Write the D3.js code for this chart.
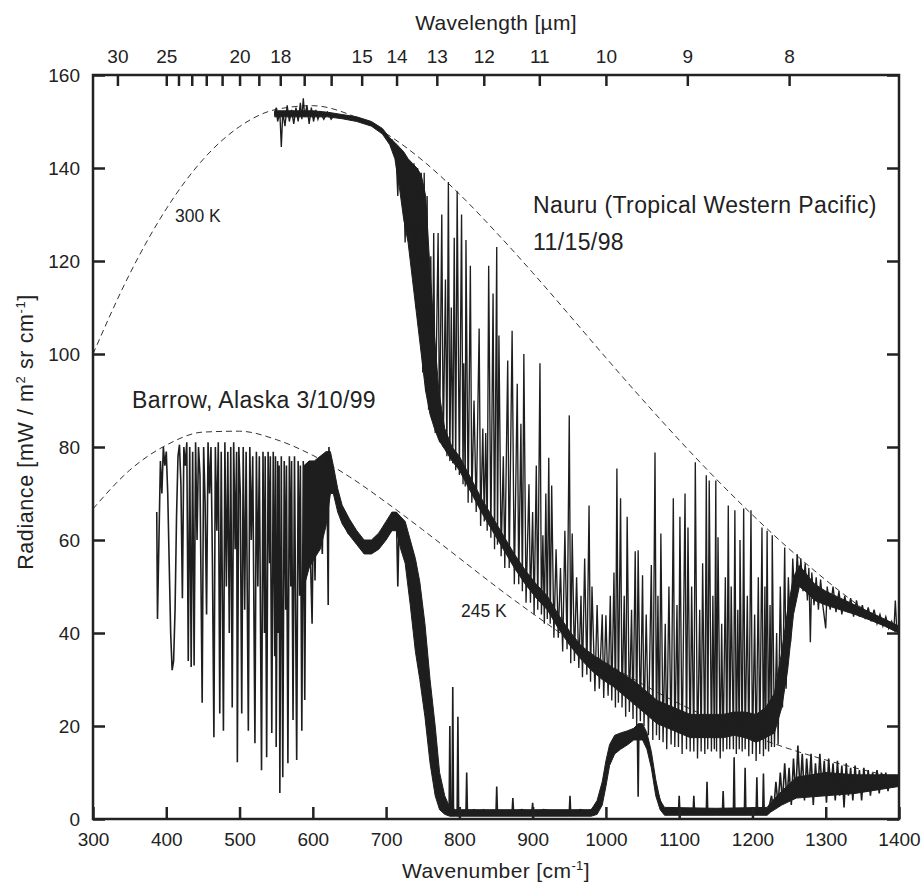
<!DOCTYPE html>
<html>
<head>
<meta charset="utf-8">
<script src="https://cdn.jsdelivr.net/npm/d3@7"></script>
<style>
  body { margin: 0; background: #fff; }
  text { font-family: "Liberation Sans", Arial, sans-serif; fill: #222; }
</style>
</head>
<body>
<svg id="chart" width="924" height="882"></svg>
<script>
// axis values
const wnTicks = [300, 400, 500, 600, 700, 800, 900, 1000, 1100, 1200, 1300, 1400];
const radTicks = [0, 20, 40, 60, 80, 100, 120, 140, 160];
const lambdaTicks = [30, 25, 24, 23, 22, 21, 20, 19, 18, 17, 16, 15, 14, 13, 12, 11, 10, 9, 8];
const lambdaLabels = [30, 25, 20, 18, 15, 14, 13, 12, 11, 10, 9, 8];

// blackbody curves
const planckWn = [300, 350, 400, 450, 500, 550, 600, 650, 700, 750, 800, 850, 900, 950, 1000, 1050, 1100, 1150, 1200, 1250, 1300, 1350, 1400];
const planck300 = [100.0, 117.2, 131.2, 141.8, 148.9, 152.6, 153.4, 151.5, 147.4, 141.6, 134.4, 126.2, 117.5, 108.4, 99.2, 90.2, 81.5, 73.2, 65.4, 58.1, 51.4, 45.3, 39.7];
const planck245 = [66.7, 75.0, 80.4, 83.2, 83.4, 81.6, 78.2, 73.6, 68.1, 62.2, 56.1, 50.0, 44.2, 38.7, 33.6, 29.0, 24.8, 21.2, 17.9, 15.1, 12.7, 10.6, 8.8];

// Nauru: dense part [wn, low, high] and the trace [wn, radiance]
const nauruBand = [
  [548,151,152.3],[600,151,152.3],[620,151,152],[640,150.6,151.5],[660,150,151],[680,149,150],
  [695,147.3,148.5],[705,145,146.5],[712,142,145.5],[718,136,144.5],[724,129,143.5],[730,124,142],
  [736,116,141],[742,108,140],[748,100,138.5],[754,92,134],[760,87,118],[766,84,104],[772,81.5,92],
  [780,79.5,84],[790,77,80],[800,75,78],[815,70.5,73.5],[830,66,69],[845,62,65],[860,58,61],
  [875,54,57],[890,50.5,53.5],[905,47.5,50.5],[920,45,48],[935,41,44],[950,37.5,40.5],[965,34.5,37.5],
  [980,32,35.5],[995,30,34],[1010,28.5,32.5],[1025,26.5,31],[1040,24.5,29.5],[1055,22.5,27.5],[1070,20.5,25.5],
  [1085,19.5,24.5],[1100,18.5,23.5],[1115,17.5,22.5],[1130,17.5,22.5],[1145,17.5,22.5],[1160,17.5,22.5],
  [1175,18,23],[1190,17.5,23],[1205,16.5,22.5],[1218,17.5,24],[1230,18.5,27],[1240,24,36],[1248,32,45],
  [1256,44,52],[1264,50,54.5],[1272,49,53],[1285,47,50.5],[1300,46,49],[1320,45,47.5],[1340,44,46],
  [1360,42.8,44.5],[1380,41.5,43],[1400,40,41.5]
];
const nauruTrace = [
  [548,151.5],[550,153],[552,150],[555,152],[557,144.5],[559,152],[562,149],[565,153.5],[568,150],[571,152.5],
  [574,149.5],[577,153],[580,150],[583,154],[585,150.5],[587,155],[589,151],[592,153.5],[595,149.5],[598,153],
  [601,150],[604,152.5],[607,150.5],[610,152],[615,150.5],[620,152],[625,150.5],[630,151.5],[640,151],[650,151],
  [660,150.5],[670,150],[680,149.5],[690,148.5],[700,147],[705,145.5],[708,146],[711,143],[713,145],[716,134],
  [718,144],[721,138],[723,143.5],[726,124],[728,142],[731,126],[733,141],[736,125],[738,141],[741,110],[743,140],
  [746,106],[748,139],[750,96],[752,139],[754,92],[756,134],[758,88],[761,121],[763,86],[765,126],[767,83],
  [771,126],[773,81],[776,130],[778,80],[781,116],[783,78],[785,137],[787,77],[789,110],[791,76.5],[793,125],
  [795,75],[797,135],[800,74],[803,130],[805,72],[806,98],[808,71.5],[809,124.5],[812,68],[815,119],[817,68],
  [820,90],[823,66],[827,105.5],[829,63],[832,84],[834,64],[836,83],[838,62],[840,119],[843,60.5],[846,113],
  [848,58],[851,123],[852,59],[854,104],[857,56.5],[860,78],[862,54],[866,98.6],[868,54],[872,105],[875,50.5],
  [879,93.6],[881,50.5],[884,85],[886,49],[888,100],[891,46.5],[895,72],[897,46.5],[900,66],[902,44],[905,76],
  [907,45],[910,98],[912,44],[914,61],[916,42],[918,70],[920,43],[922,77.7],[924,42],[926,71.7],[929,39],
  [932,58],[935,39],[938,54],[941,36],[944,62],[947,36.5],[950,86.8],[952,33.5],[954,61.4],[957,34],[960,52],
  [963,32.5],[966,48],[968,30.5],[971,56],[974,31],[977,67.4],[979,29.5],[981,50],[985,27.5],[988,46],
  [991,28],[995,44],[997,26],[1000,43.8],[1003,26.5],[1006,48],[1008,25.5],[1011,53],[1013,24],[1015,75.4],
  [1017,25],[1020,69],[1022,24],[1025,48],[1027,22],[1029,65],[1032,23],[1035,45],[1037,21.5],[1040,57.6],
  [1042,20],[1044,57.8],[1047,21],[1050,52.4],[1052,20],[1055,44],[1058,18],[1062,54.6],[1064,17],[1067,78.8],
  [1069,18],[1071,48],[1073,17],[1075,61.4],[1078,16.5],[1081,42],[1083,15],[1086,50],[1089,16],[1092,69],
  [1094,15.5],[1097,46],[1099,15.5],[1101,65],[1104,14],[1108,70],[1110,15],[1112,62.7],[1115,14.5],[1117,50],
  [1120,14.5],[1122,76.7],[1125,13],[1128,45],[1130,14.5],[1132,55],[1135,14],[1137,73.9],[1139,15],[1141,72.8],
  [1144,14.5],[1146,48],[1148,15],[1150,72.8],[1151,14.5],[1153,60.6],[1156,13],[1158,42],[1160,14.5],[1163,52],
  [1165,15],[1167,67.4],[1169,15],[1171,50],[1174,15],[1176,66.4],[1178,14],[1180,45],[1182,15],[1183,60],
  [1186,14.5],[1188,66.8],[1190,15],[1193,48],[1195,13.5],[1198,66.4],[1200,14],[1203,44],[1205,12.5],[1208,52],
  [1210,14],[1213,62.7],[1215,13.5],[1217,50],[1218,15],[1220,62],[1222,14.5],[1224,46],[1226,15.5],[1227,61],
  [1230,15.5],[1233,40],[1235,16],[1238,50],[1241,24],[1244,58.4],[1246,28],[1249,52],[1252,38],[1255,56],
  [1258,46],[1261,57],[1264,50],[1266,56],[1269,49],[1272,55],[1275,47],[1277,54],[1279,38],[1281,53],
  [1284,46],[1287,52],[1290,45],[1293,51.5],[1296,46],[1300,41],[1302,50],[1306,45],[1310,50],[1314,44.5],
  [1318,49],[1322,44],[1326,48],[1330,44.5],[1334,47.5],[1338,43.5],[1342,47],[1346,43.5],[1350,46],[1354,43],
  [1358,45.5],[1362,42.5],[1366,45],[1370,42],[1374,44],[1378,41.5],[1382,43.5],[1386,41],[1390,42.5],
  [1393,40.5],[1395,47],[1397,40.5],[1400,40.5]
];

// Barrow
const barrowBand = [
  [588,50,76],[595,54,77],[602,56,77],[610,58,78],[618,63,79],[624,70,79],[628,70,76],[634,66,71],[640,63.5,67.5],
  [650,61,64.5],[660,59,62],[670,57,60],[680,57,60],[690,58,61.5],[700,60,64],[708,62,66],[714,62,66],
  [720,58,65],[726,55,64],[733,46,60],[740,36,56],[746,30,51],[753,22,42],[760,12,30],[767,5,20],[773,2,10],
  [780,1,5],[787,0.6,2.5],[795,0.6,2],[850,0.6,2],[900,0.6,2],[950,0.6,2],[980,0.6,2],[988,1,4],
  [995,3,8],[1000,7,12.5],[1005,11.5,16],[1012,14,18],[1020,15,18.5],[1030,16,19],[1038,17,19.5],[1044,17,20.5],
  [1050,17,20.5],[1056,15,18.5],[1062,11,14.5],[1068,5,8.5],[1074,2,4],[1080,0.8,2.5],[1150,0.8,2.3],[1220,0.8,2.5],
  [1225,1.5,3.5],[1240,3,6],[1260,4.5,9],[1300,5,10],[1340,5.5,9.5],[1400,7,9.5]
];
const barrowTrace = [
  [387,66],[388,43],[390,60],[392,77],[394,70],[396,80],[398,76],[400,79],[402,70],[404,55],[406,40],[408,32],
  [410,34],[412,45],[414,65],[416,78],[418,80.5],[420,72],[422,47.5],[424,80],[426,76],[428,81],[430,34],
  [432,80],[434,32.7],[436,79],[438,33],[440,81],[442,60],[444,80],[446,74],[449,25],[451,80],[453,68],
  [455,44],[457,81],[459,70],[461,80],[463,55],[465,17.6],[467,80],[469,62],[471,81],[473,22.7],[475,79],
  [478,19],[480,81],[482,50],[484,79],[486,40],[488,80],[490,24],[492,81],[494,58],[496,79],[497,12.2],
  [499,80],[501,70],[503,22.7],[505,80],[507,45],[509,79],[512,19],[514,80],[516,60],[518,78],[521,16.3],
  [523,79],[525,50],[527,78],[530,10.5],[532,79],[534,40],[535,78],[537,13.3],[539,79],[541,55],[542,78],
  [544,18.5],[546,79],[548,35],[549,78],[550,15.5],[552,77],[553,40],[554,76],[555,5.6],[557,78],[559,9],
  [561,77],[563,45],[564,76],[566,12],[568,78],[570,50],[571,77],[573,21.3],[575,78],[578,12.7],[580,77],
  [582,48],[583,76],[585,19],[587,77],[589,25.6],[591,76],[593,60],[595,77],[597,55],[599,42],[601,70],
  [603,51.3],[605,74],[607,60],[609,76],[611,63],[613,57],[615,77],[617,65],[619,78],[621,46],[622,80],
  [624,72],[626,76],[628,72.8],[632,70],[636,67],[640,65],[644,63],[648,61.5],[652,61],[656,61],[660,60],
  [664,59.5],[668,58.5],[672,58],[676,58],[680,58.5],[684,59],[688,60],[692,60.5],[696,61.5],[700,62.5],
  [704,64],[708,65.5],[712,64],[714,66],[716,50],[718,65],[720,63],[726,58],[733,52],[740,45],[746,40],
  [753,32],[760,20],[767,12],[773,5],[780,3],[784,1.5],[786,1.5],[787,20],[788,1.5],[790,1.5],[791,28.4],
  [792,1.5],[797,1.5],[798,22],[799,1.5],[809,1.5],[810,10],[811,1.5],[820,2],[825,1],[833,2],[840,1],
  [850,1.5],[851,7],[852,1.5],[860,1],[872,1.5],[873,4.5],[874,1.5],[885,2],[899,1.5],[900,3.5],[901,1],
  [915,2],[930,1.5],[950,1.5],[951,5],[952,1],[965,2],[975,1.5],[985,2.5],[990,3],[1000,10],[1010,16],
  [1030,18],[1043,18],[1044,4.8],[1045,19],[1056,17],[1068,7],[1078,2],[1090,1.5],[1099,1.5],[1100,5],
  [1101,1.5],[1119,1.5],[1120,5],[1121,1.5],[1137,1.5],[1138,8],[1139,1.5],[1159,1.5],[1160,6],[1161,1.5],
  [1174,1.5],[1175,13.3],[1176,1.5],[1189,1.5],[1190,11],[1191,1.5],[1205,1.5],[1206,9],[1207,1.5],
  [1214,1.5],[1215,9.8],[1216,1.5],[1222,2],
  [1226,5],[1229,2],[1232,8],[1235,3],[1238,10],[1241,3.5],[1244,12],[1247,4],[1250,11],[1253,3],[1256,13],
  [1259,5],[1262,15.8],[1265,6],[1268,14],[1271,4],[1274,13],[1277,6],[1280,14],[1283,3],[1286,12],[1289,5],
  [1292,14],[1295,6],[1298,12.5],[1301,3.5],[1304,13],[1307,6],[1310,12],[1313,4],[1316,12.5],[1319,5],
  [1322,11.5],[1325,2.5],[1328,12],[1331,5],[1334,11],[1337,4],[1340,11.5],[1343,6],[1346,10.5],[1349,4],
  [1352,11],[1355,6],[1358,10.5],[1361,5],[1364,10],[1367,7],[1370,10.5],[1373,5.5],[1376,10],[1379,7],
  [1382,10],[1385,6],[1388,9.5],[1391,7],[1394,9.5],[1397,7.5],[1400,8.5]
];

const dim = {left: 93, right: 899, top: 75, bottom: 819};
const ink = "#1e1e1e";

const svg = d3.select("#chart");
const x = d3.scaleLinear().domain([300, 1400]).range([dim.left, dim.right]);
const y = d3.scaleLinear().domain([0, 160]).range([dim.bottom, dim.top]);

svg.append("clipPath").attr("id", "plot")
  .append("rect")
  .attr("x", dim.left).attr("y", dim.top)
  .attr("width", dim.right - dim.left).attr("height", dim.bottom - dim.top);

const plot = svg.append("g").attr("clip-path", "url(#plot)");

// dashed blackbody curves
const planckLine = d3.line().x(d => x(d[0])).y(d => y(d[1])).curve(d3.curveMonotoneX);
[planck300, planck245].forEach(vals => {
  plot.append("path")
    .datum(planckWn.map((w, i) => [w, vals[i]]))
    .attr("d", planckLine)
    .attr("fill", "none")
    .attr("stroke", "#333")
    .attr("stroke-width", 1)
    .attr("stroke-dasharray", "6,4");
});

const band = d3.area().x(d => x(d[0])).y0(d => y(d[1])).y1(d => y(d[2]));
const trace = d3.line().x(d => x(d[0])).y(d => y(d[1]));

[[nauruBand, nauruTrace, 1.35], [barrowBand, barrowTrace, 1.6]].forEach(([b, t, w]) => {
  plot.append("path").datum(b).attr("d", band)
    .attr("fill", ink).attr("stroke", ink).attr("stroke-width", 1);
  plot.append("path").datum(t).attr("d", trace)
    .attr("fill", "none").attr("stroke", ink).attr("stroke-width", w);
});

// axes, ticks inward
function styleAxis(g) {
  g.select(".domain").remove();
  g.selectAll(".tick line").attr("stroke", "#222").attr("stroke-width", 2.5);
  g.selectAll(".tick text").style("font-size", "19px").attr("fill", "#222");
}

svg.append("g").attr("transform", `translate(0,${dim.bottom})`)
  .call(d3.axisBottom(x).tickValues(wnTicks).tickSize(-12).tickPadding(14).tickFormat(d3.format("d")))
  .call(styleAxis);

svg.append("g").attr("transform", `translate(0,${dim.top})`)
  .call(d3.axisTop(x).tickValues(lambdaTicks.map(l => 1e4 / l)).tickSize(-11).tickPadding(12)
    .tickFormat(d => {
      const l = Math.round(1e4 / d);
      return lambdaLabels.includes(l) ? l : "";
    }))
  .call(styleAxis);

svg.append("g").attr("transform", `translate(${dim.left},0)`)
  .call(d3.axisLeft(y).tickValues(radTicks).tickSize(-12).tickPadding(13))
  .call(styleAxis);

svg.append("g").attr("transform", `translate(${dim.right},0)`)
  .call(d3.axisRight(y).tickValues(radTicks).tickSize(-12).tickFormat(""))
  .call(styleAxis);

svg.append("rect")
  .attr("x", dim.left).attr("y", dim.top)
  .attr("width", dim.right - dim.left).attr("height", dim.bottom - dim.top)
  .attr("fill", "none").attr("stroke", "#222").attr("stroke-width", 2.5);

// titles
const xt = svg.append("text").attr("x", (dim.left + dim.right) / 2).attr("y", 878)
  .attr("text-anchor", "middle").style("font-size", "21px").style("letter-spacing", "0.4px");
xt.append("tspan").text("Wavenumber [cm");
xt.append("tspan").attr("dy", -8).style("font-size", "13px").text("-1");
xt.append("tspan").attr("dy", 8).text("]");

svg.append("text").attr("x", (dim.left + dim.right) / 2).attr("y", 30)
  .attr("text-anchor", "middle").style("font-size", "21px").style("letter-spacing", "0.3px")
  .text("Wavelength [\u00b5m]");

const yt = svg.append("text").attr("transform", "translate(33,432) rotate(-90)")
  .attr("text-anchor", "middle").style("font-size", "21.5px").style("letter-spacing", "0.6px");
yt.append("tspan").text("Radiance [mW / m");
yt.append("tspan").attr("dy", -8).style("font-size", "13px").text("2");
yt.append("tspan").attr("dy", 8).text(" sr cm");
yt.append("tspan").attr("dy", -8).style("font-size", "13px").text("-1");
yt.append("tspan").attr("dy", 8).text("]");

// annotations
const notes = [
  {t: "Nauru (Tropical Western Pacific)", x: 533, y: 213, s: 23},
  {t: "11/15/98", x: 533, y: 250, s: 23},
  {t: "Barrow, Alaska 3/10/99", x: 132, y: 408, s: 23},
  {t: "300 K", x: 175, y: 222, s: 17.5},
  {t: "245 K", x: 461, y: 617, s: 17.5}
];
svg.selectAll(".note").data(notes).join("text")
  .attr("class", "note")
  .attr("x", d => d.x).attr("y", d => d.y)
  .style("font-size", d => d.s + "px")
  .style("letter-spacing", d => d.s > 20 ? "0.4px" : "0px")
  .text(d => d.t);
</script>
</body>
</html>
